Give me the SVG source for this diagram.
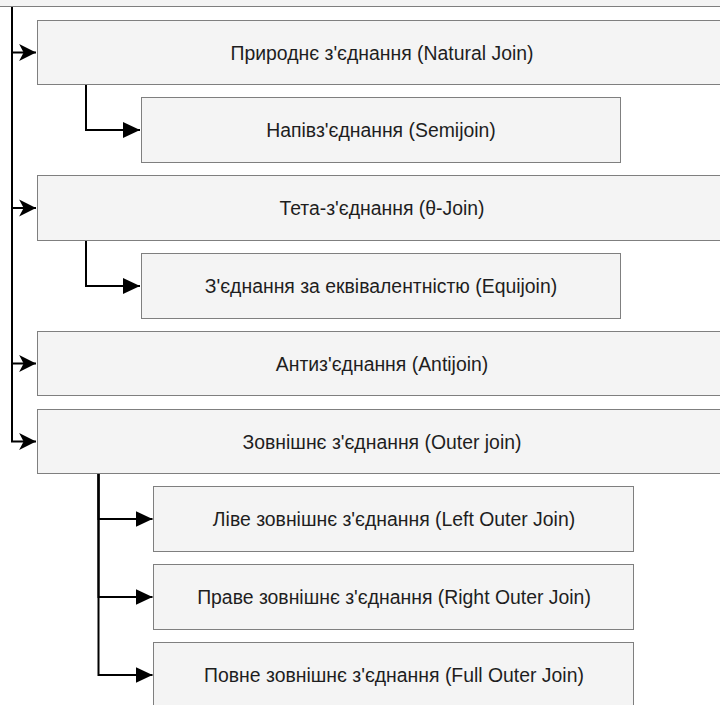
<svg xmlns="http://www.w3.org/2000/svg" width="720" height="705" viewBox="0 0 720 705">
  <style>
    .box { fill: #f4f4f4; stroke: #7f7f7f; stroke-width: 1; }
    .lbl { font-family: "Liberation Sans", Arial, sans-serif; font-size: 19.4px; fill: #1e1e1e; text-anchor: middle; }
    .edge { fill: none; stroke: #000; stroke-width: 2; }
  </style>
  <defs>
    <marker id="classic" markerUnits="userSpaceOnUse" markerWidth="18" markerHeight="18" viewBox="0 0 16 16" refX="15" refY="8" orient="auto">
      <path d="M0 0.5 L15 8 L0 15.5 L4 8 Z" fill="#000"/>
    </marker>
    <marker id="block" markerUnits="userSpaceOnUse" markerWidth="18" markerHeight="18" viewBox="0 0 18 18" refX="17" refY="9" orient="auto">
      <path d="M0 1 L17 9 L0 17 Z" fill="#000"/>
    </marker>
  </defs>

  <!-- root node, only its lower edge is in view -->
  <g id="root">
    <rect class="box" x="-5.5" y="-60.5" width="740" height="67"/>
  </g>

  <g id="connectors">
    <path class="edge" d="M12 7 V52.5 H36" marker-end="url(#classic)"/>
    <path class="edge" d="M12 7 V208 H36" marker-end="url(#classic)"/>
    <path class="edge" d="M12 7 V363.5 H36" marker-end="url(#classic)"/>
    <path class="edge" d="M12 7 V441.5 H36" marker-end="url(#classic)"/>
    <path class="edge" d="M86 85 V130 H140" marker-end="url(#block)"/>
    <path class="edge" d="M86 241 V286 H140" marker-end="url(#block)"/>
    <path class="edge" d="M98.5 474 V519 H152.5" marker-end="url(#block)"/>
    <path class="edge" d="M98.5 474 V597 H152.5" marker-end="url(#block)"/>
    <path class="edge" d="M98.5 474 V675 H152.5" marker-end="url(#block)"/>
  </g>

  <g id="natural-join">
    <rect class="box" x="37.5" y="20.5" width="690" height="64"/>
    <text class="lbl" x="382" y="59.5">Природнє з'єднання (Natural Join)</text>
  </g>
  <g id="semijoin">
    <rect class="box" x="141.5" y="97.5" width="479" height="65"/>
    <text class="lbl" x="381" y="137">Напівз'єднання (Semijoin)</text>
  </g>
  <g id="theta-join">
    <rect class="box" x="37.5" y="175.5" width="690" height="65"/>
    <text class="lbl" x="382" y="215">Тета-з'єднання (θ-Join)</text>
  </g>
  <g id="equijoin">
    <rect class="box" x="141.5" y="253.5" width="479" height="65"/>
    <text class="lbl" x="381" y="293">З'єднання за еквівалентністю (Equijoin)</text>
  </g>
  <g id="antijoin">
    <rect class="box" x="37.5" y="331.5" width="690" height="64"/>
    <text class="lbl" x="382" y="370.5">Антиз'єднання (Antijoin)</text>
  </g>
  <g id="outer-join">
    <rect class="box" x="37.5" y="409.5" width="690" height="64"/>
    <text class="lbl" x="382" y="448.5">Зовнішнє з'єднання (Outer join)</text>
  </g>
  <g id="left-outer-join">
    <rect class="box" x="153.5" y="486.5" width="480" height="65"/>
    <text class="lbl" x="394" y="526">Ліве зовнішнє з'єднання (Left Outer Join)</text>
  </g>
  <g id="right-outer-join">
    <rect class="box" x="153.5" y="564.5" width="480" height="65"/>
    <text class="lbl" x="394" y="604">Праве зовнішнє з'єднання (Right Outer Join)</text>
  </g>
  <g id="full-outer-join">
    <rect class="box" x="153.5" y="642.5" width="480" height="65"/>
    <text class="lbl" x="394" y="682">Повне зовнішнє з'єднання (Full Outer Join)</text>
  </g>
</svg>
